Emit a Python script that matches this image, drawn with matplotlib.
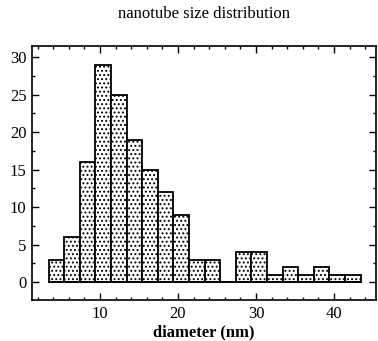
import numpy as np
import matplotlib
matplotlib.use('Agg')
import matplotlib.pyplot as plt
from matplotlib.ticker import MultipleLocator

# histogram bins (nm) and counts
bin_edges = [3.4 + 2.0 * i for i in range(21)]
counts = [3, 6, 16, 29, 25, 19, 15, 12, 9, 3, 3, 0, 4, 4, 1, 2, 1, 2, 1, 1]

plt.rcParams['font.family'] = 'Liberation Serif'
plt.rcParams['hatch.linewidth'] = 0.9

fig = plt.figure(figsize=(3.78, 3.41), dpi=100)
ax = fig.add_axes([0.085, 0.12, 0.91, 0.745])

left = np.array(bin_edges[:-1])
width = np.diff(bin_edges)
ax.bar(left, counts, width=width, align='edge', color='white',
       edgecolor='black', linewidth=1.3, hatch='....')
ax.plot([bin_edges[0], bin_edges[-1]], [0, 0], color='black', lw=1.3)

ax.set_xlim(1.3, 45.4)
ax.set_ylim(-2.4, 31.5)
ax.xaxis.set_major_locator(MultipleLocator(10))
ax.xaxis.set_minor_locator(MultipleLocator(2))
ax.yaxis.set_major_locator(MultipleLocator(5))
ax.yaxis.set_minor_locator(MultipleLocator(2.5))
ax.tick_params(which='both', direction='in', top=True, right=True,
               labeltop=False, labelright=False, width=1.0)
ax.tick_params(which='major', length=5, labelsize=12, pad=4)
ax.tick_params(which='minor', length=2.5)
for s in ax.spines.values():
    s.set_linewidth(1.2)

ax.set_title('nanotube size distribution', fontsize=12, pad=20)
ax.set_xlabel('diameter (nm)', fontsize=12, fontweight='bold', labelpad=2)

fig.savefig('out.png', dpi=100)
